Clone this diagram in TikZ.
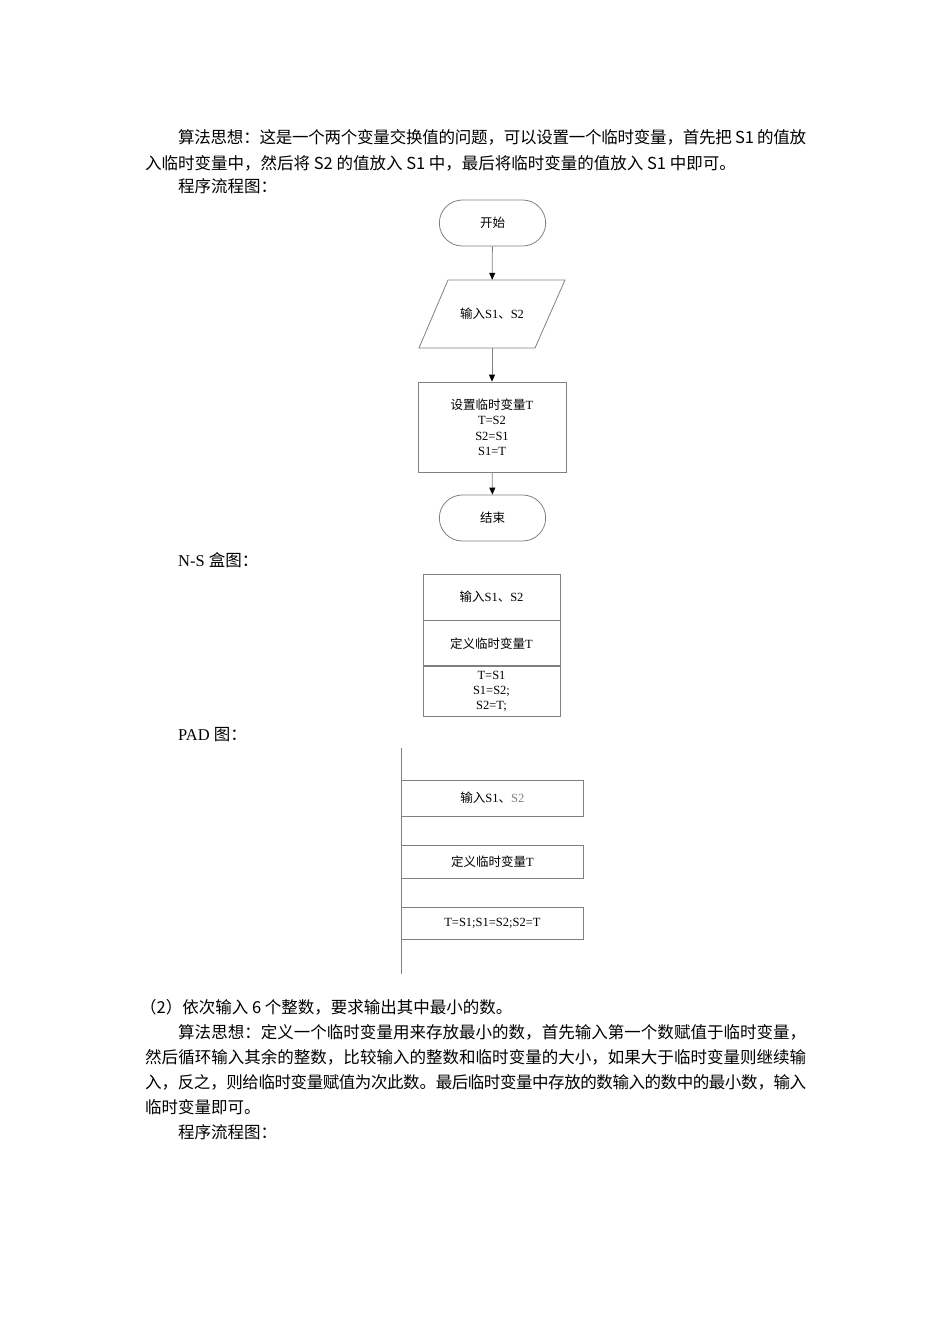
\documentclass[tikz,border=0pt]{standalone}
\usepackage{fontspec}
\setmainfont{Liberation Serif}
\newfontfamily\cjk{Noto Sans CJK SC}
\usetikzlibrary{arrows.meta,shapes.misc}
\XeTeXlinebreaklocale "zh"
\XeTeXlinebreakskip=0pt plus 1pt minus 0.6pt
\newcommand{\jline}[2]{\parbox[t]{#1}{\parfillskip=0pt\relax #2}}
\definecolor{linegray}{RGB}{128,128,128}
\tikzset{
  body/.style={anchor=base west,inner sep=0pt,font=\cjk\fontsize{16.5}{20}\selectfont},
  dtext/.style={font=\fontsize{12.5}{15.5}\selectfont,align=center},
  term/.style={rounded rectangle,draw=linegray,line width=0.8pt,minimum width=113pt,minimum height=46pt,dtext},
  procbox/.style={rectangle,draw=linegray,line width=0.8pt,dtext},
  conn/.style={draw=linegray,line width=0.8pt,-{Triangle[width=6pt,length=7pt,fill=black,color=black]}},
  plain/.style={draw=linegray,line width=0.8pt},
}
\begin{document}
\begin{tikzpicture}[x=1pt,y=-1pt]
\useasboundingbox (0,0) rectangle (950,1344);
% paragraph 1
\node[body] (p1a) at (178,143) {\jline{628pt}{算法思想：这是一个两个变量交换值的问题，可以设置一个临时变量，首先把 S1 的值放}};
\node[body] (p1b) at (145,169) {入临时变量中，然后将 S2 的值放入 S1 中，最后将临时变量的值放入 S1 中即可。};
\node[body] (p1c) at (178,192) {程序流程图：};
% flowchart
\node[term] (start) at (492.5,223) {\cjk 开始};
\node[minimum width=117pt,minimum height=68pt,inner sep=0pt,dtext] (in) at (492,314) {{\cjk 输入}S1{\cjk 、}S2};
\draw[plain] (419,348) -- (448,280) -- (565,280) -- (535,348) -- cycle;
\node[procbox,minimum width=148pt,minimum height=90pt,font=\fontsize{12.5}{15.5}\selectfont] (set) at (492,427) {{\cjk 设置临时变量}T\\T=S2\\S2=S1\\S1=T};
\node[term] (end) at (492.5,518) {\cjk 结束};
\draw[conn] (start) -- (in);
\draw[conn] (in) -- (set);
\draw[conn] (set) -- (end);
% N-S
\node[body,font=\fontsize{16.5}{20}\selectfont] (ns) at (178,566) {N-S {\cjk 盒图：}};
\node[procbox,minimum width=137pt,minimum height=46pt] (ns1) at (491.5,597) {{\cjk 输入}S1{\cjk 、}S2};
\node[procbox,minimum width=137pt,minimum height=45pt,anchor=north] (ns2) at (ns1.south) {{\cjk 定义临时变量}T};
\node[procbox,minimum width=137pt,minimum height=50pt,anchor=north,font=\fontsize{12.5}{15}\selectfont] (ns3) at (ns2.south) {T=S1\\S1=S2;\\S2=T;};
% PAD
\node[body,font=\fontsize{16.5}{20}\selectfont] (pad) at (178,740) {PAD {\cjk 图：}};
\coordinate (padtop) at (401,748);
\coordinate (padbot) at (401,974);
\draw[plain] (padtop) -- (padbot);
\node[procbox,minimum width=182pt,minimum height=36pt,anchor=west] (pa1) at (401,798) {{\cjk 输入}S1{\cjk 、}\textcolor{linegray}{S2}};
\node[procbox,minimum width=182pt,minimum height=33pt,anchor=west] (pa2) at (401,861.5) {{\cjk 定义临时变量}T};
\node[procbox,minimum width=182pt,minimum height=32pt,anchor=west] (pa3) at (401,923) {T=S1;S1=S2;S2=T};
% paragraph 2
\node[body] (q0) at (140,1013) {（2）依次输入 6 个整数，要求输出其中最小的数。};
\node[body] (q1) at (178,1038) {\jline{628pt}{算法思想：定义一个临时变量用来存放最小的数，首先输入第一个数赋值于临时变量，}};
\node[body] (q2) at (145,1063) {\jline{661pt}{然后循环输入其余的整数，比较输入的整数和临时变量的大小，如果大于临时变量则继续输}};
\node[body] (q3) at (145,1088) {\jline{661pt}{入，反之，则给临时变量赋值为次此数。最后临时变量中存放的数输入的数中的最小数，输入}};
\node[body] (q4) at (145,1113) {临时变量即可。};
\node[body] (q5) at (178,1138) {程序流程图：};
\end{tikzpicture}
\end{document}
